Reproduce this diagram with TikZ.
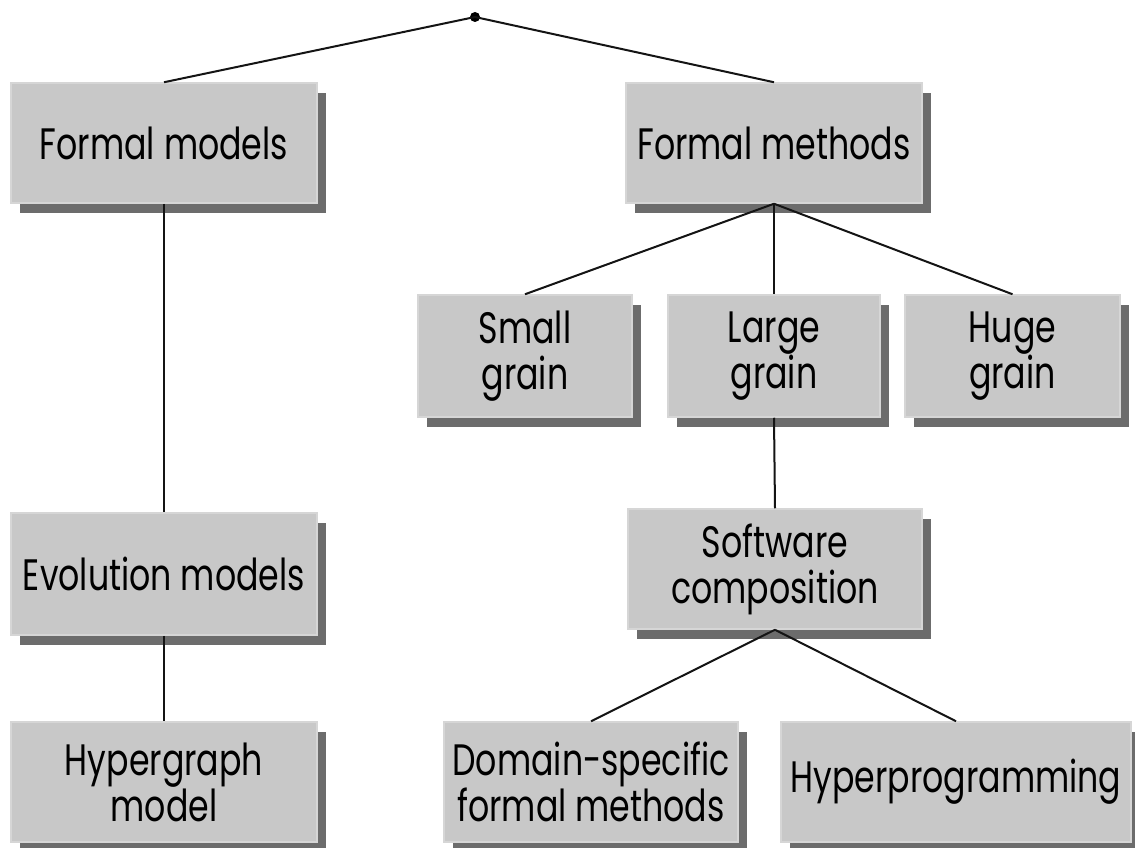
\documentclass[tikz,border=0pt]{standalone}
\usepackage{fontspec}
\setmainfont[FakeStretch=0.755]{Poppins}
\usetikzlibrary{shadows}
\definecolor{boxgray}{HTML}{C8C8C8}
\definecolor{boxedge}{HTML}{D6D6D6}
\definecolor{shadowgray}{HTML}{6C6C6C}
\definecolor{linecol}{HTML}{141414}
\tikzset{
  box/.style={rectangle, fill=boxgray, draw=boxedge, line width=1.5pt,
    inner sep=0pt, align=center, text=black,
    font=\fontsize{44}{46}\selectfont,
    drop shadow={shadow xshift=9pt, shadow yshift=-10pt, fill=shadowgray, opacity=1}},
  link/.style={draw=linecol, line width=2pt},
}
\begin{document}
\begin{tikzpicture}[x=1pt,y=-1pt]
\useasboundingbox[fill=white] (0,0) rectangle (1135,848);
\node[box, minimum width=306pt, minimum height=120pt] (fmodels) at (164,143) {Formal models};
\node[box, minimum width=296pt, minimum height=120pt] (fmethods) at (774,143) {Formal methods};
\node[box, minimum width=214pt, minimum height=122pt] (small) at (525,356) {Small\\grain};
\node[box, minimum width=212pt, minimum height=122pt] (large) at (774,356) {Large\\grain};
\node[box, minimum width=215pt, minimum height=122pt] (huge) at (1012.5,356) {Huge\\grain};
\node[box, minimum width=306pt, minimum height=122pt] (evol) at (164,574) {Evolution models};
\node[box, minimum width=306pt, minimum height=120pt] (hyper) at (164,782) {Hypergraph\\model};
\node[box, minimum width=294pt, minimum height=120pt] (soft) at (775,569) {Software\\composition};
\node[box, minimum width=294pt, minimum height=120pt] (domain) at (591,782) {Domain-specific\\formal methods};
\node[box, minimum width=350pt, minimum height=120pt] (hprog) at (956,782) {Hyperprogramming};
\node[circle, fill=black, inner sep=0pt, minimum size=10pt] (top) at (475,17) {};
\draw[link] (top.center) -- (fmodels.north);
\draw[link] (top.center) -- (fmethods.north);
\draw[link] (fmodels.south) -- (evol.north);
\draw[link] (evol.south) -- (hyper.north);
\draw[link] (fmethods.south) -- (small.north);
\draw[link] (fmethods.south) -- (large.north);
\draw[link] (fmethods.south) -- (huge.north);
\draw[link] (large.south) -- (soft.north);
\draw[link] (soft.south) -- (domain.north);
\draw[link] (soft.south) -- (hprog.north);
\end{tikzpicture}
\end{document}
